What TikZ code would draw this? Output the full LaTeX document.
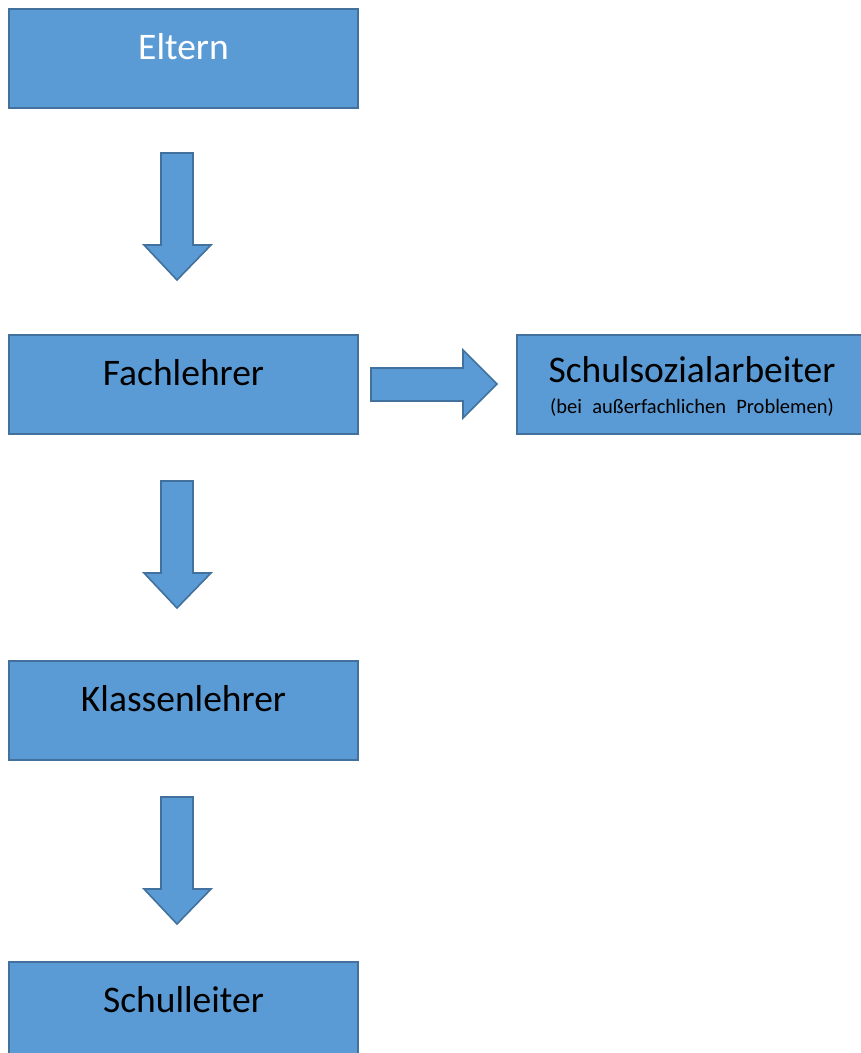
\documentclass[tikz,border=0pt]{standalone}
\usepackage{fontspec}
\setmainfont{Carlito}
\definecolor{boxfill}{HTML}{5B9BD5}
\definecolor{boxline}{HTML}{41719C}
\begin{document}
\begin{tikzpicture}[x=1pt,y=-1pt,
  blockbox/.style={draw=boxline,fill=boxfill,line width=1.6pt},
  blockarrow/.style={draw=boxline,fill=boxfill,line width=1.6pt,line join=miter},
  lbl/.style={anchor=base,inner sep=0pt,font=\fontsize{37.5}{44}\selectfont},
  sublbl/.style={anchor=base,inner sep=0pt,font=\fontsize{20.5}{24}\selectfont}]
\useasboundingbox (0,0) rectangle (861,1053);
% boxes
\draw[blockbox] (9,9) rectangle (358,108);
\node[lbl,text=white] (eltern) at (183.5,59) {Eltern};
\draw[blockbox] (9,335) rectangle (358,434);
\node[lbl] (fach) at (183.5,385) {Fachlehrer};
\draw[blockbox] (517,335) rectangle (866,434);
\node[lbl] (sozial) at (692,382) {Schulsozialarbeiter};
\node[sublbl] (sozialsub) at (692,413) {(bei\hspace{0.5em}außerfachlichen\hspace{0.5em}Problemen)};
\draw[blockbox] (9,661) rectangle (358,760);
\node[lbl] (klasse) at (183.5,711) {Klassenlehrer};
\draw[blockbox] (9,962) rectangle (358,1060);
\node[lbl] (leiter) at (183.5,1012) {Schulleiter};
% down arrows
\foreach \y in {153,481,797}{
  \draw[blockarrow] (161,\y) -- (193,\y) -- (193,\y+92) -- (211,\y+92) -- (177,\y+127)
    -- (144,\y+92) -- (161,\y+92) -- cycle;
}
% right arrow
\draw[blockarrow] (371,368) -- (463,368) -- (463,350) -- (497,384) -- (463,418)
  -- (463,401) -- (371,401) -- cycle;
\end{tikzpicture}
\end{document}
